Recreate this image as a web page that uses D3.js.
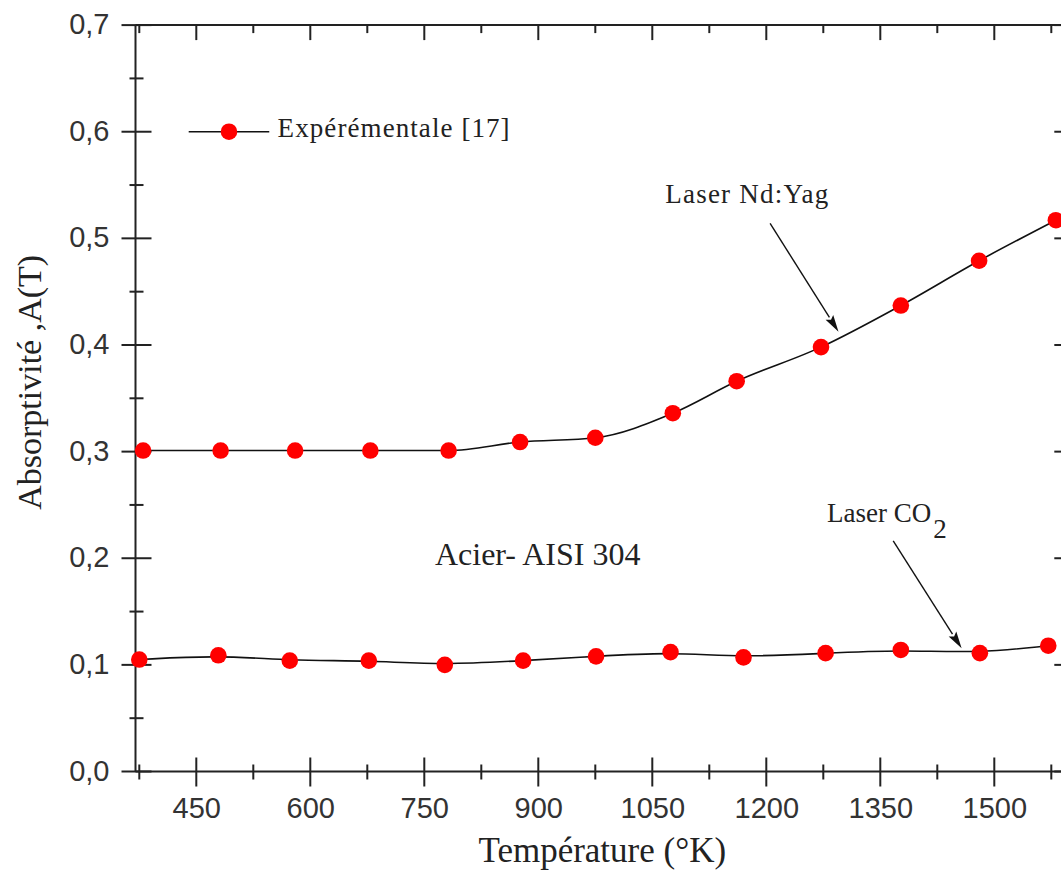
<!DOCTYPE html>
<html>
<head>
<meta charset="utf-8">
<script src="https://cdn.jsdelivr.net/npm/d3@7"></script>
<style>
  html, body { margin: 0; padding: 0; background: #fff; }
  svg { display: block; }
</style>
</head>
<body>
<svg id="chart" width="1061" height="870"></svg>
<script>
// ---- Data ----
const tempsYag = [380, 482, 580, 679, 782, 876, 975, 1077, 1161, 1272, 1377, 1480, 1581];
const absYag   = [0.301, 0.301, 0.301, 0.301, 0.301, 0.309, 0.313, 0.336, 0.366, 0.398, 0.437, 0.479, 0.517];
const tempsCO2 = [375, 479, 573, 677, 777, 880, 976, 1074, 1170, 1278, 1377, 1481, 1571];
const absCO2   = [0.105, 0.109, 0.104, 0.104, 0.100, 0.104, 0.108, 0.112, 0.107, 0.111, 0.114, 0.111, 0.118];

const xMajorTicks = [450, 600, 750, 900, 1050, 1200, 1350, 1500];
const xMinorTicks = [375, 525, 675, 825, 975, 1125, 1275, 1425, 1575];
const yMajorTicks = [0, 0.1, 0.2, 0.3, 0.4, 0.5, 0.6, 0.7];
const yMinorTicks = [0.05, 0.15, 0.25, 0.35, 0.45, 0.55, 0.65];

const xTitle = "Température (°K)";
const yTitle = "Absorptivité ,A(T)";
const legendLabel = "Expérémentale [17]";
const materialLabel = "Acier- AISI 304";

// ---- Layout ----
const svg = d3.select("#chart");
const x = d3.scaleLinear().domain([370, 1600]).range([135.5, 1070.3]);
const y = d3.scaleLinear().domain([0, 0.7]).range([771.5, 25.1]);
const x0 = x.range()[0], x1 = x.range()[1];
const y0 = y.range()[0], y1 = y.range()[1];

const axisColor = "#222";
const serif = "'Liberation Serif', 'Times New Roman', serif";
const sans = "'Liberation Sans', Arial, sans-serif";

// frame
const frame = svg.append("g").attr("stroke", axisColor).attr("stroke-width", 2).attr("fill", "none");
frame.append("line").attr("x1", x0).attr("x2", x1).attr("y1", y0).attr("y2", y0);
frame.append("line").attr("x1", x0).attr("x2", x1).attr("y1", y1).attr("y2", y1);
frame.append("line").attr("x1", x0).attr("x2", x0).attr("y1", y0).attr("y2", y1);
frame.append("line").attr("x1", x1).attr("x2", x1).attr("y1", y0).attr("y2", y1);

// ticks
const tk = svg.append("g").attr("stroke", axisColor).attr("stroke-width", 2);
xMajorTicks.forEach(v => tk.append("line").attr("x1", x(v)).attr("x2", x(v)).attr("y1", y0 - 14).attr("y2", y0 + 15));
xMinorTicks.forEach(v => tk.append("line").attr("x1", x(v)).attr("x2", x(v)).attr("y1", y0 - 7).attr("y2", y0 + 8));
xMajorTicks.forEach(v => tk.append("line").attr("x1", x(v)).attr("x2", x(v)).attr("y1", y1).attr("y2", y1 + 15));
xMinorTicks.forEach(v => tk.append("line").attr("x1", x(v)).attr("x2", x(v)).attr("y1", y1).attr("y2", y1 + 8));
yMajorTicks.forEach(v => tk.append("line").attr("y1", y(v)).attr("y2", y(v)).attr("x1", x0 - 14).attr("x2", x0 + 16));
yMinorTicks.forEach(v => tk.append("line").attr("y1", y(v)).attr("y2", y(v)).attr("x1", x0 - 6).attr("x2", x0 + 8));
yMajorTicks.forEach(v => tk.append("line").attr("y1", y(v)).attr("y2", y(v)).attr("x1", x1 - 16).attr("x2", x1));
yMinorTicks.forEach(v => tk.append("line").attr("y1", y(v)).attr("y2", y(v)).attr("x1", x1 - 8).attr("x2", x1));

// tick labels via d3 axes
const fmtY = d => d3.format(".1f")(d).replace(".", ",");
const xAxis = d3.axisBottom(x).tickValues(xMajorTicks).tickSize(0).tickPadding(0).tickFormat(d3.format("d"));
const gx = svg.append("g").attr("transform", `translate(0,${y0})`).call(xAxis);
gx.select(".domain").remove();
gx.selectAll("text").attr("font-family", sans).attr("font-size", 29).attr("fill", "#333")
  .attr("dy", null).attr("y", 46.5);

const yAxis = d3.axisLeft(y).tickValues(yMajorTicks).tickSize(0).tickPadding(0).tickFormat(fmtY);
const gy = svg.append("g").attr("transform", `translate(${x0},0)`).call(yAxis);
gy.select(".domain").remove();
gy.selectAll("text").attr("font-family", sans).attr("font-size", 29).attr("fill", "#333")
  .attr("dy", null).attr("x", -26).attr("y", 8.5).attr("text-anchor", "end");

// axis titles
svg.append("text").attr("x", (x(450) + x(1500)) / 2 + 7).attr("y", 862)
  .attr("text-anchor", "middle").attr("font-family", serif).attr("font-size", 35).attr("fill", "#222")
  .text(xTitle);
svg.append("text").attr("transform", `translate(41,${y(0.365)}) rotate(-90)`)
  .attr("text-anchor", "middle").attr("font-family", serif).attr("font-size", 34).attr("fill", "#222")
  .text(yTitle);

// series
const lineYag = d3.line().x(d => x(d[0])).y(d => y(d[1])).curve(d3.curveMonotoneX);
const lineCO2 = d3.line().x(d => x(d[0])).y(d => y(d[1])).curve(d3.curveBasis);
const yagData = tempsYag.map((t, i) => [t, absYag[i]]);
const co2Data = tempsCO2.map((t, i) => [t, absCO2[i]]);

const plot = svg.append("g");
plot.append("path").datum(yagData).attr("d", lineYag)
  .attr("fill", "none").attr("stroke", "#111").attr("stroke-width", 1.6);
plot.append("path").datum(co2Data).attr("d", lineCO2)
  .attr("fill", "none").attr("stroke", "#111").attr("stroke-width", 1.6);
[yagData, co2Data].forEach(data => {
  plot.selectAll(null).data(data).enter().append("circle")
    .attr("cx", d => x(d[0])).attr("cy", d => y(d[1])).attr("r", 8.3)
    .attr("fill", "#ff0000");
});

// legend
const lg = svg.append("g");
lg.append("line").attr("x1", x(440)).attr("x2", x(546)).attr("y1", y(0.6)).attr("y2", y(0.6))
  .attr("stroke", "#111").attr("stroke-width", 1.6);
lg.append("circle").attr("cx", x(493)).attr("cy", y(0.6)).attr("r", 8.3).attr("fill", "#ff0000");
lg.append("text").attr("x", x(557)).attr("y", y(0.595)).attr("font-family", serif).attr("font-size", 27)
  .attr("fill", "#222").attr("textLength", 232).attr("lengthAdjust", "spacing").text(legendLabel);

// annotations
function arrow(t0, a0, t1, a1) {
  const xa = x(t0), ya = y(a0), xb = x(t1), yb = y(a1);
  const dx = xb - xa, dy = yb - ya, L = Math.hypot(dx, dy);
  const ux = dx / L, uy = dy / L, hl = 17, hw = 4.5;
  const bx = xb - ux * hl, by = yb - uy * hl;
  svg.append("line").attr("x1", xa).attr("y1", ya).attr("x2", bx).attr("y2", by)
    .attr("stroke", "#111").attr("stroke-width", 1.4);
  svg.append("path")
    .attr("d", `M${xb},${yb}L${bx - uy * hw},${by + ux * hw}L${bx + ux * 3},${by + uy * 3}L${bx + uy * hw},${by - ux * hw}Z`)
    .attr("fill", "#111");
}
arrow(1205, 0.514, 1295, 0.4125);
arrow(1367, 0.2162, 1457, 0.1155);

svg.append("text").attr("x", x(1067)).attr("y", y(0.533)).attr("font-family", serif).attr("font-size", 27)
  .attr("fill", "#222").attr("textLength", 163).attr("lengthAdjust", "spacing").text("Laser Nd:Yag");
const co2t = svg.append("text").attr("x", x(1280)).attr("y", y(0.2343)).attr("font-family", serif)
  .attr("font-size", 27).attr("fill", "#222");
co2t.append("tspan").text("Laser CO");
co2t.append("tspan").attr("dy", 16).attr("dx", 2).text("2");

svg.append("text").attr("x", x(764)).attr("y", y(0.1937)).attr("font-family", serif).attr("font-size", 32)
  .attr("fill", "#222").text(materialLabel);
</script>
</body>
</html>
